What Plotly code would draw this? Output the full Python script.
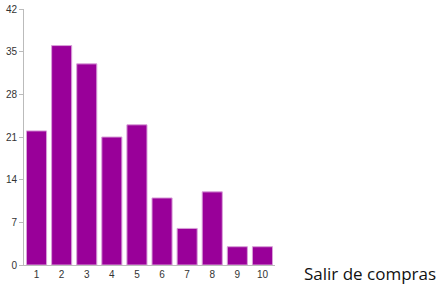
import plotly.graph_objects as go

categories = ["1", "2", "3", "4", "5", "6", "7", "8", "9", "10"]
values = [22, 36, 33, 21, 23, 11, 6, 12, 3, 3]
y_ticks = [0, 7, 14, 21, 28, 35, 42]
label = "Salir de compras"

W, H = 444, 286
L, R, T, B = 24, 169, 9, 21

fig = go.Figure(go.Bar(
    x=categories, y=values,
    marker=dict(color="#990099", line=dict(color="#d9a0d9", width=1)),
    width=0.8,
))

fig.update_layout(
    width=W, height=H,
    margin=dict(l=L, r=R, t=T, b=B, pad=0, autoexpand=False),
    paper_bgcolor="white", plot_bgcolor="white",
    showlegend=False,
    font=dict(family="Liberation Sans, Arial", size=10, color="#333333"),
    xaxis=dict(
        type="category", showgrid=False, showline=True, linecolor="#bbbbbb",
        linewidth=1, ticks="", tickfont=dict(size=10, color="#333333"),
        range=[-0.5, 9.5], automargin=False,
    ),
    yaxis=dict(
        range=[0, 42], tickvals=y_ticks, showgrid=False, showline=True,
        linecolor="#bbbbbb", linewidth=1, ticks="outside", ticklen=4,
        tickcolor="#bbbbbb", zeroline=False, automargin=False,
        tickfont=dict(size=10, color="#333333"),
    ),
    annotations=[dict(
        text=label, xref="paper", yref="paper",
        x=(370 - L) / (W - L - R), y=(H - B - 273) / (H - T - B),
        xanchor="center", yanchor="middle", showarrow=False,
        font=dict(family="Open Sans, Noto Sans", size=17, color="#111111"),
    )],
)

fig.write_html(
    "out.html",
    config={"displayModeBar": False},
    post_script="document.body.style.margin='0';document.body.style.overflow='hidden';",
)
